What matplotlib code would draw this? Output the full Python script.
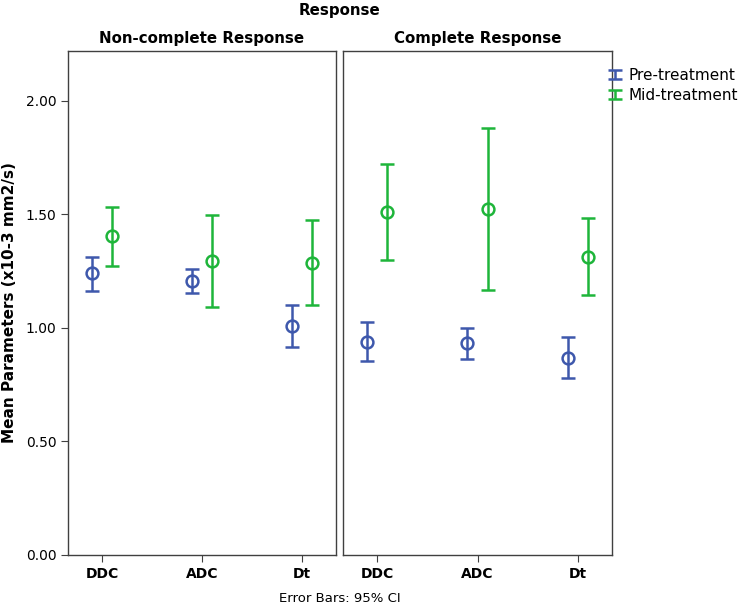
import numpy as np
import matplotlib.pyplot as plt
from matplotlib.legend_handler import HandlerErrorbar

# Dados
categorias = ['DDC', 'ADC', 'Dt']
grupos = ['Non-complete Response', 'Complete Response']

# media, limite inferior e superior (IC 95%)
pre_media = [[1.241, 1.208, 1.010], [0.940, 0.933, 0.869]]
pre_inf = [[1.164, 1.156, 0.916], [0.855, 0.865, 0.781]]
pre_sup = [[1.314, 1.260, 1.103], [1.025, 1.000, 0.960]]

mid_media = [[1.404, 1.297, 1.288], [1.511, 1.524, 1.314]]
mid_inf = [[1.274, 1.094, 1.101], [1.300, 1.167, 1.145]]
mid_sup = [[1.532, 1.499, 1.476], [1.724, 1.880, 1.483]]

y_ticks = [0.0, 0.5, 1.0, 1.5, 2.0]

azul = '#3e58ac'
verde = '#1eb53a'
cinza = '#404040'

W, H = 742, 605
fig = plt.figure(figsize=(W / 100, H / 100), dpi=100)

# posicoes dos paineis em pixels (esquerda, direita)
paineis = [(68.3, 335.7), (343.3, 611.7)]
base, topo = 555, 51

x = np.arange(len(categorias))
eixos = []
for i, (x0, x1) in enumerate(paineis):
    ax = fig.add_axes([x0 / W, (H - base) / H, (x1 - x0) / W, (base - topo) / H])
    eixos.append(ax)
    for media, inf, sup, cor, desl, nome in [
        (pre_media[i], pre_inf[i], pre_sup[i], azul, -0.1, 'Pre-treatment'),
        (mid_media[i], mid_inf[i], mid_sup[i], verde, 0.1, 'Mid-treatment'),
    ]:
        media = np.array(media)
        erro = [media - np.array(inf), np.array(sup) - media]
        ax.errorbar(x + desl, media, yerr=erro, fmt='none', ecolor=cor,
                    elinewidth=1.8, capsize=5, capthick=1.8, label=nome)
        ax.plot(x + desl, media, 'o', mfc='none', mec=cor, mew=1.8, ms=8.5)
    ax.set_xlim(-0.34, 2.34)
    ax.set_ylim(0, 2.22)
    ax.set_xticks(x)
    ax.set_xticklabels(categorias, fontweight='bold', fontsize=10)
    ax.set_title(grupos[i], fontweight='bold', fontsize=10.8, pad=6)
    for s in ax.spines.values():
        s.set_color(cinza)
        s.set_linewidth(1.0)
    ax.tick_params(axis='x', length=5, color=cinza)
    if i == 0:
        ax.set_yticks(y_ticks)
        ax.set_yticklabels([f'{v:.2f}' for v in y_ticks], fontsize=10)
        ax.tick_params(axis='y', length=5, color=cinza)
        ax.set_ylabel('Mean Parameters (x10-3 mm2/s)', fontweight='bold', fontsize=11, labelpad=6)
    else:
        ax.set_yticks([])

fig.text(0.458, 1 - 10 / H, 'Response', ha='center', va='center', fontweight='bold', fontsize=10.8)
fig.text(0.458, 1 - 598 / H, 'Error Bars: 95% CI', ha='center', va='center', fontsize=9.5)

handles, labels = eixos[0].get_legend_handles_labels()
fig.legend(handles, labels, loc='upper left', bbox_to_anchor=(603 / W, 1 - 62 / H),
           frameon=False, fontsize=11, handlelength=0.8, handletextpad=0.5,
           labelspacing=0.3, borderaxespad=0,
           handler_map={type(handles[0]): HandlerErrorbar(xerr_size=0.25, yerr_size=0.3)})

fig.savefig('out.png', dpi=100)
